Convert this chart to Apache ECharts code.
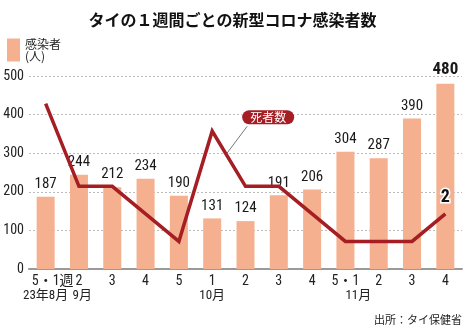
<!DOCTYPE html>
<html>
<head>
<meta charset="utf-8">
<script src="https://cdn.jsdelivr.net/npm/echarts@6/dist/echarts.min.js"></script>
<style>
  html, body { margin: 0; padding: 0; background: #fff; }
  #chart { width: 465px; height: 328px; }
</style>
</head>
<body>
<div id="chart"></div>
<script>
// Weekly COVID-19 figures for Thailand (Aug–Nov 2023)
const weekLabels = ['5・1週', '2', '3', '4', '5', '1', '2', '3', '4', '5・1', '2', '3', '4'];
const monthLabels = ['23年8月', '9月', '', '', '', '10月', '', '', '', '11月', '', '', ''];
const cases = [187, 244, 212, 234, 190, 131, 124, 191, 206, 304, 287, 390, 480];
const deaths = [6, 3, 3, 2, 1, 5, 3, 3, 2, 1, 1, 1, 2];
const caseTicks = [0, 100, 200, 300, 400, 500];

// Roboto is a variable font, so the "condensed" stretch keyword selects its narrow width
const NUM = '"Roboto","Noto Sans CJK JP",sans-serif';
const NARROW = 'condensed';
const JP = '"Noto Sans CJK JP","Noto Sans",sans-serif';
const BAR_COLOR = '#f4b08f';
const LINE_COLOR = '#a51e24';

// Invisible leading text nudges a centred label sideways
const SHIFT = { '5・1週': '週', '9月': '9', '11月': '11月' };
const nudge = v => SHIFT[v] ? '{p|' + SHIFT[v] + '}' + v : v;

const chart = echarts.init(document.getElementById('chart'), null, { renderer: 'canvas' });

const last = cases.length - 1;
const barData = cases.map((v, i) => i === last
  ? { value: v, label: { fontSize: 17, fontWeight: 'bold', distance: 5 } }
  : v);
const lineData = deaths.map((v, i) => i === last
  ? { value: v, label: { show: true } }
  : v);

chart.setOption({
  animation: false,
  title: {
    text: 'タイの１週間ごとの新型コロナ感染者数',
    left: 'center',
    top: 7,
    textStyle: { fontFamily: JP, fontSize: 16, fontWeight: 'bold', color: '#111' }
  },
  legend: {
    data: ['感染者'],
    left: 7,
    top: 38,
    padding: 0,
    itemWidth: 13,
    itemHeight: 23,
    icon: 'rect',
    formatter: () => '感染者\n(人)',
    textStyle: { fontFamily: JP, fontSize: 12, lineHeight: 12, color: '#222' }
  },
  grid: { left: 29, right: 3, top: 76, bottom: 59, containLabel: false },
  xAxis: [
    {
      type: 'category',
      data: weekLabels,
      axisLine: { lineStyle: { color: '#9a9a9a', width: 2 } },
      axisTick: { show: false },
      axisLabel: {
        margin: 6,
        fontFamily: NUM,
        fontStyle: NARROW,
        fontSize: 14,
        color: '#222',
        interval: 0,
        formatter: nudge,
        rich: { p: { color: 'rgba(0,0,0,0)', fontFamily: NUM, fontStyle: NARROW, fontSize: 14 } }
      }
    },
    {
      type: 'category',
      data: monthLabels,
      position: 'bottom',
      offset: 14,
      axisLine: { show: false },
      axisTick: { show: false },
      axisLabel: {
        margin: 6,
        fontFamily: NUM,
        fontStyle: NARROW,
        fontSize: 13,
        color: '#222',
        interval: 0,
        formatter: nudge,
        rich: { p: { color: 'rgba(0,0,0,0)', fontFamily: NUM, fontStyle: NARROW, fontSize: 13 } }
      }
    }
  ],
  yAxis: [
    {
      type: 'value',
      min: caseTicks[0],
      max: caseTicks[caseTicks.length - 1],
      interval: caseTicks[1] - caseTicks[0],
      axisLine: { show: false },
      axisTick: { show: false },
      axisLabel: { margin: 5, fontFamily: NUM, fontStyle: NARROW, fontSize: 14, color: '#222' },
      splitLine: { lineStyle: { color: '#bdbdbd', type: [2, 2], width: 1 } }
    },
    {
      type: 'value',
      min: 0,
      max: 7,
      show: false
    }
  ],
  series: [
    {
      name: '感染者',
      type: 'bar',
      xAxisIndex: 0,
      yAxisIndex: 0,
      data: barData,
      barWidth: 18,
      itemStyle: { color: BAR_COLOR },
      label: {
        show: true,
        position: 'top',
        distance: 5,
        fontFamily: NUM,
        fontStyle: NARROW,
        fontSize: 15,
        color: '#1a1a1a'
      },
      z: 2
    },
    {
      name: '死者数',
      type: 'line',
      xAxisIndex: 0,
      yAxisIndex: 1,
      data: lineData,
      symbol: 'circle',
      symbolSize: 0,
      showSymbol: true,
      lineStyle: { color: LINE_COLOR, width: 3.5, join: 'miter' },
      itemStyle: { color: LINE_COLOR },
      label: {
        show: false,
        position: 'top',
        distance: 7,
        fontFamily: NUM,
        fontStyle: NARROW,
        fontSize: 18,
        fontWeight: 'bold',
        color: '#111',
        textBorderColor: '#fff',
        textBorderWidth: 3
      },
      z: 5
    }
  ]
});

// Callout for the deaths line, anchored on the segment after the 10月 week 1 peak
const a = chart.convertToPixel({ xAxisIndex: 0, yAxisIndex: 1 }, [5, deaths[5]]);
const b = chart.convertToPixel({ xAxisIndex: 0, yAxisIndex: 1 }, [6, deaths[6]]);
const t = 0.42;
const sx = a[0] + (b[0] - a[0]) * t;
const sy = a[1] + (b[1] - a[1]) * t;

chart.setOption({
  graphic: [
    {
      type: 'line',
      shape: { x1: sx, y1: sy, x2: sx + 21, y2: sy - 28 },
      style: { stroke: '#555', lineWidth: 0.8 },
      z: 10
    },
    {
      type: 'text',
      x: sx + 42,
      y: sy - 37,
      style: {
        text: '死者数',
        fill: '#fff',
        font: '12px ' + JP,
        align: 'center',
        verticalAlign: 'middle',
        backgroundColor: LINE_COLOR,
        borderColor: '#fff',
        borderWidth: 1,
        borderRadius: 8,
        padding: [1, 8, 1, 8]
      },
      z: 11
    },
    {
      type: 'text',
      right: 3,
      bottom: 3,
      style: {
        text: '出所：タイ保健省',
        fill: '#222',
        font: '11px ' + JP
      }
    }
  ]
});
</script>
</body>
</html>
